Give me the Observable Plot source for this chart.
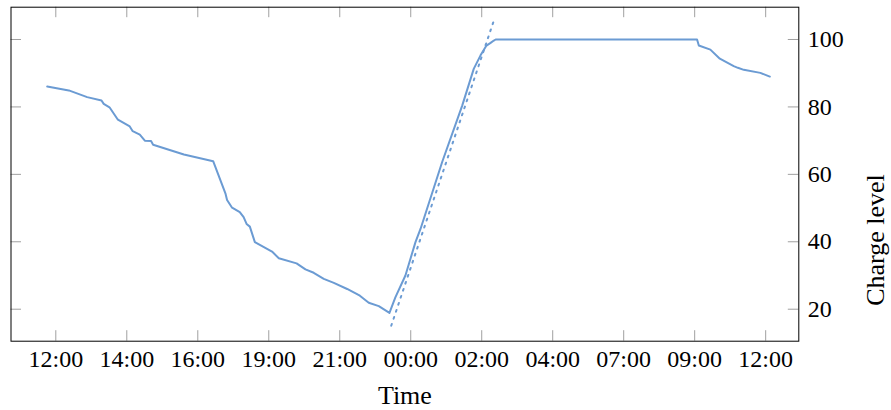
<!DOCTYPE html>
<html><head><meta charset="utf-8">
<script src="https://cdn.jsdelivr.net/npm/d3@7"></script>
<script src="https://cdn.jsdelivr.net/npm/@observablehq/plot@0.6"></script>
<style>body{margin:0;background:#fff}</style>
</head><body><div id="chart"></div>
<script>
// hours after 12:00 on day 1
const hours = [-0.29, 0.44, 1.06, 1.545, 1.62, 1.815, 2.10, 2.50, 2.60, 2.84, 3.01, 3.22, 3.29, 4.33, 5.32,
  5.74, 5.79, 5.96, 6.22, 6.35, 6.45, 6.56, 6.73, 7.31, 7.54, 8.14, 8.44, 8.72, 9.06, 9.40, 9.85, 10.28,
  10.58, 10.92, 11.28, 11.48, 11.82, 12.16, 12.33, 13.06, 13.74, 14.13, 14.36, 14.56, 14.70, 14.81, 14.87,
  21.68, 21.74, 22.13, 22.45, 22.92, 23.06, 23.26, 23.82, 24.14];
const charge = [86.05, 84.9, 82.9, 81.9, 80.9, 79.9, 76.2, 74.2, 72.8, 71.8, 70.0, 69.9, 68.8, 65.9, 63.9,
  54.2, 52.4, 50.1, 48.8, 47.3, 45.3, 44.5, 39.9, 37.1, 35.1, 33.6, 31.8, 30.8, 29.0, 27.8, 26.0, 24.0,
  21.9, 20.9, 18.9, 23.5, 30.0, 39.9, 43.8, 63.6, 80.4, 91.3, 95.3, 98.2, 99.0, 99.7, 100,
  100, 98.2, 97.0, 94.3, 92.1, 91.6, 91.0, 90.1, 89.0];
const trendHours = [11.34, 14.79];
const trendCharge = [15.1, 105.1];
const xTicks = [0, 2.4, 4.8, 7.2, 9.6, 12, 14.4, 16.8, 19.2, 21.6, 24];
const xTickLabels = ["12:00", "14:00", "16:00", "19:00", "21:00", "00:00", "02:00", "04:00", "07:00", "09:00", "12:00"];
const yTicks = [20, 40, 60, 80, 100];
const xDomain = [-1.515, 25.12];
const yDomain = [10.51, 109.58];

const series = hours.map((h, i) => ({h, v: charge[i]}));
const trend = trendHours.map((h, i) => ({h, v: trendCharge[i]}));

const W = 891, H = 410, mL = 10.5, mR = 92.7, mT = 6.7, mB = 69.3;
const innerW = W - mL - mR, innerH = H - mT - mB, tick = 10.5;
const color = "#6b9bd3";

const chart = Plot.plot({
  width: W, height: H,
  marginLeft: mL, marginRight: mR, marginTop: mT, marginBottom: mB,
  style: {fontFamily: "'Liberation Serif', serif", fontSize: "24px", background: "#fff", color: "#000"},
  x: {domain: xDomain},
  y: {domain: yDomain},
  marks: [
    Plot.tickX(xTicks, {x: d => d, stroke: "#a0a0a0", strokeWidth: 1, insetTop: innerH - tick}),
    Plot.tickX(xTicks, {x: d => d, stroke: "#a0a0a0", strokeWidth: 1, insetBottom: innerH - tick}),
    Plot.tickY(yTicks, {y: d => d, stroke: "#a0a0a0", strokeWidth: 1, insetRight: innerW - tick}),
    Plot.tickY(yTicks, {y: d => d, stroke: "#a0a0a0", strokeWidth: 1, insetLeft: innerW - tick}),
    Plot.line(trend, {x: "h", y: "v", stroke: color, strokeWidth: 2, strokeDasharray: "1.8,5.6"}),
    Plot.line(series, {x: "h", y: "v", stroke: color, strokeWidth: 2, strokeLinejoin: "round"}),
    Plot.frame({stroke: "#000", strokeWidth: 1}),
    Plot.axisX({ticks: xTicks, tickFormat: d => xTickLabels[xTicks.indexOf(d)], tickSize: 0, tickPadding: 9, fontSize: 24, label: null}),
    Plot.axisY({anchor: "right", ticks: yTicks, tickSize: 0, tickPadding: 9, fontSize: 24, label: null}),
    Plot.text(["Time"], {text: d => d, frameAnchor: "bottom", lineAnchor: "middle", dy: 54.3, fontSize: 26}),
    Plot.text(["Charge level"], {text: d => d, frameAnchor: "right", lineAnchor: "middle", rotate: -90, dx: 76.7, fontSize: 26})
  ]
});
document.getElementById("chart").appendChild(chart);
</script>
</body></html>
